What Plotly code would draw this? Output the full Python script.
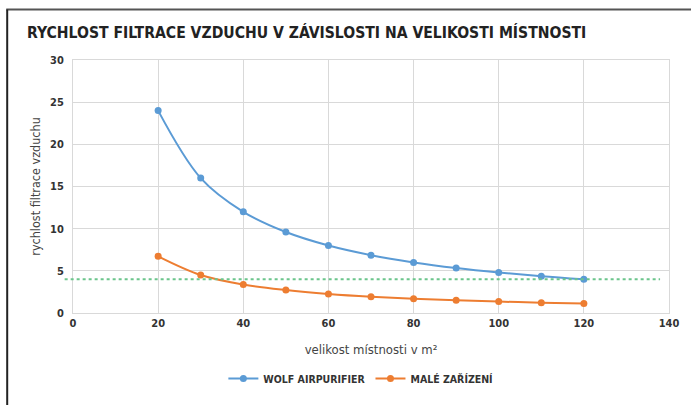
import plotly.graph_objects as go

room_size = [20, 30, 40, 50, 60, 70, 80, 90, 100, 110, 120]
wolf = [24, 16, 12, 9.6, 8, 6.86, 6, 5.33, 4.8, 4.36, 4]
male = [6.72, 4.5, 3.37, 2.72, 2.26, 1.93, 1.69, 1.5, 1.35, 1.23, 1.13]
threshold = 4
x_ticks = [0, 20, 40, 60, 80, 100, 120, 140]
y_ticks = [0, 5, 10, 15, 20, 25, 30]

TITLE = "RYCHLOST FILTRACE VZDUCHU V ZÁVISLOSTI NA VELIKOSTI MÍSTNOSTI"
COND = "DejaVu Sans Condensed"

fig = go.Figure()
fig.add_trace(go.Scatter(
    x=room_size, y=wolf, name="WOLF AIRPURIFIER", mode="lines+markers",
    line=dict(color="#5B9BD5", width=2, shape="spline"),
    marker=dict(size=7, color="#5B9BD5")))
fig.add_trace(go.Scatter(
    x=room_size, y=male, name="MALÉ ZAŘÍZENÍ", mode="lines+markers",
    line=dict(color="#ED7D31", width=2, shape="spline"),
    marker=dict(size=7, color="#ED7D31")))

# threshold dashed line
fig.add_shape(type="line", xref="paper", yref="y", x0=-0.014, x1=0.985,
              y0=threshold, y1=threshold,
              line=dict(color="#6CC58C", width=2, dash="dot"), layer="above")

# outer frame (top and left)
fig.add_shape(type="line", xref="paper", yref="paper", x0=-0.112, x1=1.04,
              y0=1.2, y1=1.2, line=dict(color="#555555", width=2))
fig.add_shape(type="line", xref="paper", yref="paper", x0=-0.1104, x1=-0.1104,
              y0=1.2, y1=-0.4, line=dict(color="#222222", width=2))

fig.update_layout(
    width=691, height=405,
    margin=dict(l=73, r=20, t=60, b=90),
    paper_bgcolor="white", plot_bgcolor="white",
    title=dict(text=TITLE, x=27/691, xanchor="left", y=1-33/405, yanchor="middle",
               font=dict(family=COND, size=15.6, color="#222222", weight="bold")),
    xaxis=dict(range=[0, 140], tickvals=x_ticks, showgrid=True, gridcolor="#D9D9D9",
               showline=True, linecolor="#D9D9D9", mirror=True, zeroline=False,
               ticks="", tickfont=dict(family=COND, size=11, color="#333333", weight="bold"),
               title=dict(text="velikost místnosti v m²", standoff=15,
                          font=dict(family=COND, size=13, color="#444444"))),
    yaxis=dict(range=[0, 30], tickvals=y_ticks, showgrid=True, gridcolor="#D9D9D9",
               showline=True, linecolor="#D9D9D9", mirror=True, zeroline=False,
               ticks="", ticklabelstandoff=6,
               tickfont=dict(family=COND, size=11, color="#333333", weight="bold"),
               title=dict(text="rychlost filtrace vzduchu", standoff=6,
                          font=dict(family=COND, size=12.5, color="#444444"))),
    legend=dict(orientation="h", x=0.483, xanchor="center", y=-0.259, yanchor="middle",
                font=dict(family=COND, size=10.5, color="#333333", weight="bold"),
                itemwidth=30),
    showlegend=True,
)

fig.write_html("out.html", config={"displayModeBar": False},
               post_script="document.body.style.margin='0';")
